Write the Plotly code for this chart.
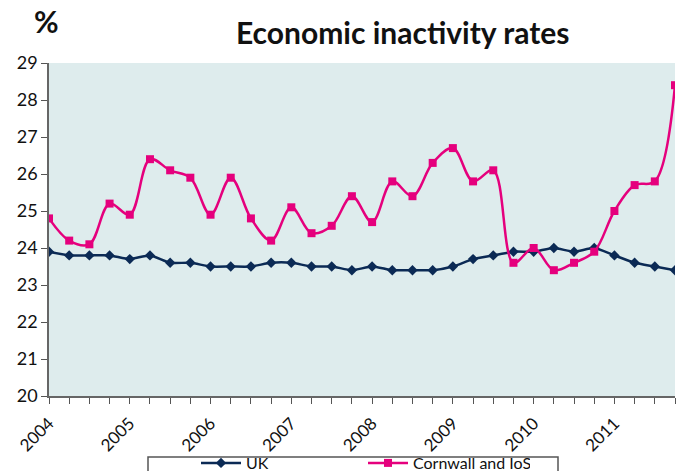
import plotly.graph_objects as go

# Quarterly periods, 2004 Q1 to 2011 Q4
years = [str(y) for y in range(2004, 2012)]
quarters = [f"{y} Q{q}" for y in years for q in range(1, 5)]

# Economic inactivity rates (%)
uk = [23.9, 23.8, 23.8, 23.8, 23.7, 23.8, 23.6, 23.6,
      23.5, 23.5, 23.5, 23.6, 23.6, 23.5, 23.5, 23.4,
      23.5, 23.4, 23.4, 23.4, 23.5, 23.7, 23.8, 23.9,
      23.9, 24.0, 23.9, 24.0, 23.8, 23.6, 23.5, 23.4]
cornwall = [24.8, 24.2, 24.1, 25.2, 24.9, 26.4, 26.1, 25.9,
            24.9, 25.9, 24.8, 24.2, 25.1, 24.4, 24.6, 25.4,
            24.7, 25.8, 25.4, 26.3, 26.7, 25.8, 26.1, 23.6,
            24.0, 23.4, 23.6, 23.9, 25.0, 25.7, 25.8, 28.4]

y_ticks = list(range(20, 30))

NAVY = "#0b2a55"
PINK = "#e5007d"
FONT = "Lato"

# plot area in pixels
L, R, T, B = 49, 675, 63, 396
W, H = 677, 471


def px_x(x):
    return (x - L) / (R - L)


def px_y(y):
    return (B - y) / (B - T)


fig = go.Figure()
fig.add_trace(go.Scatter(
    x=quarters, y=uk, name="UK", mode="lines+markers",
    line=dict(color=NAVY, width=2.5, shape="spline", smoothing=0.6),
    marker=dict(symbol="diamond", size=8, color=NAVY),
))
fig.add_trace(go.Scatter(
    x=quarters, y=cornwall, name="Cornwall and IoS", mode="lines+markers",
    line=dict(color=PINK, width=2.5, shape="spline", smoothing=1.0),
    marker=dict(symbol="square", size=8, color=PINK),
))

tick_text = [q[:4] if q.endswith("Q1") else "" for q in quarters]

fig.update_layout(
    width=W, height=H,
    margin=dict(l=L, r=W - R, t=T, b=H - B, autoexpand=False),
    paper_bgcolor="white",
    plot_bgcolor="#deeced",
    font=dict(family=FONT, color="#111111", size=17),
    showlegend=True,
    legend=dict(
        orientation="h", x=px_x(196), y=px_y(463), xanchor="left",
        yanchor="middle",
        font=dict(family=FONT, size=16, color="#111111"),
        bgcolor="rgba(0,0,0,0)", entrywidth=112, entrywidthmode="pixels",
        itemwidth=40, tracegroupgap=0,
    ),
    annotations=[
        dict(text="<b>Economic inactivity rates</b>", x=px_x(402), y=px_y(32),
             xref="paper", yref="paper", xanchor="center", yanchor="middle",
             showarrow=False,
             font=dict(family=FONT, size=30, color="#111111")),
        dict(text="<b>%</b>", x=px_x(46), y=px_y(21),
             xref="paper", yref="paper", xanchor="center", yanchor="middle",
             showarrow=False,
             font=dict(family=FONT, size=30, color="#111111")),
    ],
)

# legend frame
fig.add_shape(type="rect", xref="paper", yref="paper",
              x0=px_x(148), x1=px_x(558), y0=px_y(480), y1=px_y(457),
              line=dict(color="#555555", width=1.5), fillcolor="white",
              layer="below")

fig.update_xaxes(
    type="category", range=[0, len(quarters) - 1], automargin=False,
    tickmode="array", tickvals=quarters, ticktext=tick_text,
    tickangle=-45, ticks="outside", ticklen=6, tickcolor="#555555",
    ticklabelstandoff=3,
    showline=True, linecolor="#666666", linewidth=1.5,
    showgrid=False, zeroline=False,
    tickfont=dict(family=FONT, size=17, color="#111111"),
)
fig.update_yaxes(
    range=[20, 29], tickvals=y_ticks, ticks="outside", ticklen=6,
    automargin=False,
    tickcolor="#555555", showline=True, linecolor="#666666", linewidth=1.5,
    showgrid=False, zeroline=False,
    tickfont=dict(family=FONT, size=18, color="#111111"),
)

fig.write_html("out.html")
